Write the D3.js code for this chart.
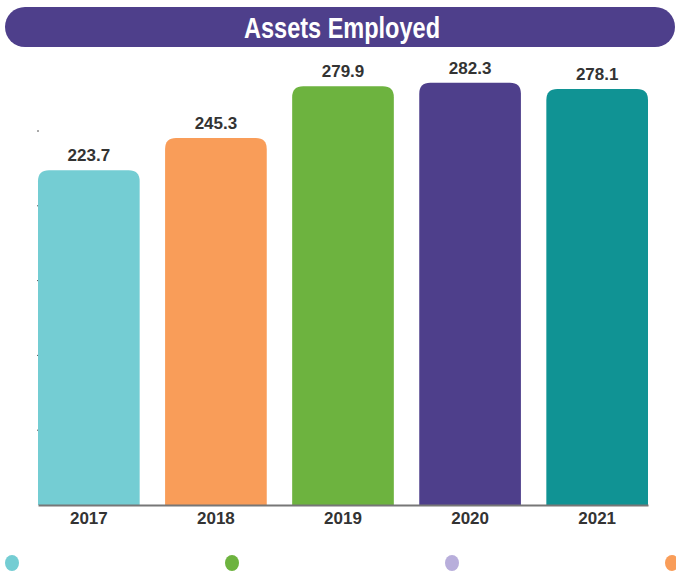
<!DOCTYPE html>
<html><head><meta charset="utf-8">
<script src="https://cdn.jsdelivr.net/npm/d3@7"></script>
<style>body{margin:0;background:#fff}svg{display:block}</style>
</head><body>
<script>
const categories = ["2017","2018","2019","2020","2021"];
const values = [223.7, 245.3, 279.9, 282.3, 278.1];
const barColors = ["#74CDD3","#F99D59","#6DB33F","#4E3F8B","#109394"];
const yTicks = [0,50,100,150,200,250];
const legendColors = ["#74CDD3","#6DB33F","#B8AEDB","#F99D59"];

const W=676,H=573;
const svg=d3.select("body").append("svg").attr("width",W).attr("height",H);

// title banner
svg.append("rect").attr("x",5).attr("y",7).attr("width",670).attr("height",40).attr("rx",20).attr("fill","#4E3F8B");
svg.append("text").attr("x",342).attr("y",38).attr("text-anchor","middle")
  .attr("font-family","'Liberation Sans','DejaVu Sans Condensed',sans-serif")
  .attr("font-weight","bold").attr("font-size",30).attr("fill","#fff")
  .attr("textLength",196).attr("lengthAdjust","spacingAndGlyphs").text("Assets Employed");

const x=d3.scaleBand().domain(categories).range([38,648]).paddingInner(0.2).paddingOuter(0);
const y=d3.scaleLinear().domain([0,250]).range([505,131]);

// left tiny ticks
svg.append("g").selectAll("line").data(yTicks.slice(1)).join("line")
  .attr("x1",37).attr("x2",39).attr("y1",d=>y(d)).attr("y2",d=>y(d))
  .attr("stroke","#555").attr("stroke-width",1);

const r=11;
function barPath(x0,y0,w,y1){
  return `M${x0},${y1}V${y0+r}Q${x0},${y0} ${x0+r},${y0}H${x0+w-r}Q${x0+w},${y0} ${x0+w},${y0+r}V${y1}Z`;
}
svg.append("g").selectAll("path").data(values).join("path")
  .attr("d",(d,i)=>barPath(x(categories[i]),y(d),x.bandwidth(),y(0)))
  .attr("fill",(d,i)=>barColors[i]);

svg.append("g").selectAll("text").data(values).join("text")
  .attr("x",(d,i)=>x(categories[i])+x.bandwidth()/2).attr("y",d=>y(d)-9)
  .attr("text-anchor","middle").attr("font-family","'Liberation Sans',Arial,sans-serif")
  .attr("font-weight","bold").attr("font-size",17).attr("fill","#333")
  .text(d=>d.toFixed(1));

// x axis
const xa=svg.append("g").attr("transform","translate(0,505)")
  .call(d3.axisBottom(x).tickSize(0).tickPadding(7));
xa.select(".domain").attr("stroke","#777").attr("stroke-width",2);
xa.selectAll("text").attr("font-family","'Liberation Sans',Arial,sans-serif")
  .attr("font-weight","bold").attr("font-size",17).attr("fill","#333");

// legend dots
svg.append("g").selectAll("ellipse").data(legendColors).join("ellipse")
  .attr("cx",(d,i)=>12+i*220).attr("cy",563).attr("rx",7).attr("ry",8).attr("fill",d=>d);
</script>
</body></html>
